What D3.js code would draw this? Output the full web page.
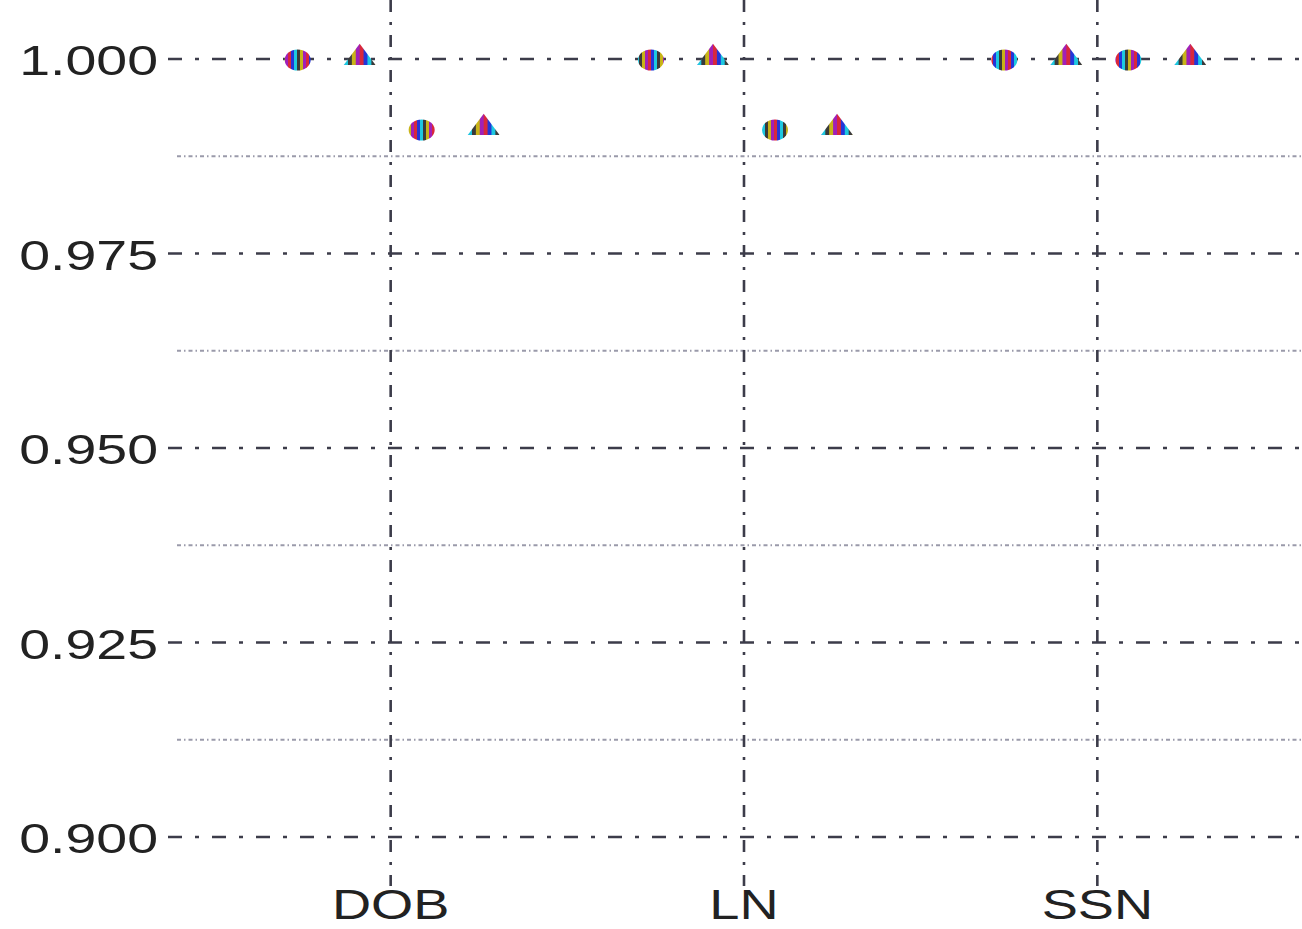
<!DOCTYPE html>
<html>
<head>
<meta charset="utf-8">
<script src="https://cdn.jsdelivr.net/npm/d3@7"></script>
<style>
  html, body { margin: 0; padding: 0; background: #fff; }
  svg { display: block; }
</style>
</head>
<body>
<svg id="chart" width="1302" height="929"></svg>
<script>
// ---- data ----
const categories = ["DOB", "LN", "SSN"];
const seriesNames = ["A_circle", "A_triangle", "B_circle", "B_triangle"];
const seriesShapes = ["circle", "triangle", "circle", "triangle"];
const valuesA_circle   = [1.000, 1.000, 1.000];
const valuesA_triangle = [1.000, 1.000, 1.000];
const valuesB_circle   = [0.991, 0.991, 1.000];
const valuesB_triangle = [0.991, 0.991, 1.000];
const seriesValues = [valuesA_circle, valuesA_triangle, valuesB_circle, valuesB_triangle];
const yTicks = [0.900, 0.925, 0.950, 0.975, 1.000];
const yMinorTicks = [0.9125, 0.9375, 0.9625, 0.9875];
const yTickLabels = ["0.900", "0.925", "0.950", "0.975", "1.000"];

// ---- layout ----
const svg = d3.select("#chart");
const W = 1302, H = 929;
const plotLeft = 168, plotTop = 0, plotBottom = 886;
const stretch = 1.29;

const x = d3.scaleBand().domain(categories).range([214, 1274]).paddingInner(0).paddingOuter(0);
const xSub = d3.scaleBand().domain(seriesNames).range([-124, 124]);
const y = d3.scaleLinear().domain([0.9, 1.0]).range([837, 59]);

// stripe pattern mimicking the colour fringes
const defs = svg.append("defs");
const stripeColors = ["#d8283c", "#2436d8", "#1ec8e0", "#3a3a3a", "#c8b418", "#a020b8"];
const pat = defs.append("pattern").attr("id", "stripes")
  .attr("patternUnits", "userSpaceOnUse").attr("width", stripeColors.length * 3).attr("height", 10);
stripeColors.forEach((c, i) => {
  pat.append("rect").attr("x", i * 3).attr("y", 0).attr("width", 3).attr("height", 10).attr("fill", c);
});

// minor horizontal grid
svg.append("g").selectAll("line").data(yMinorTicks).join("line")
  .attr("x1", 177).attr("x2", W)
  .attr("y1", d => y(d)).attr("y2", d => y(d))
  .attr("stroke", "#9a9aaa").attr("stroke-width", 2)
  .attr("stroke-dasharray", "4,3,1.5,3");

// major horizontal grid
svg.append("g").selectAll("line").data(yTicks).join("line")
  .attr("x1", plotLeft).attr("x2", W)
  .attr("y1", d => y(d)).attr("y2", d => y(d))
  .attr("stroke", "#3c3c4a").attr("stroke-width", 2.6)
  .attr("stroke-dasharray", "14,13,4,13");

// vertical grid at categories
svg.append("g").selectAll("line").data(categories).join("line")
  .attr("x1", d => x(d) + x.bandwidth() / 2).attr("x2", d => x(d) + x.bandwidth() / 2)
  .attr("y1", plotTop).attr("y2", plotBottom)
  .attr("stroke", "#3c3c4a").attr("stroke-width", 2.6)
  .attr("stroke-dasharray", "12,10,3,10");

// y tick labels
svg.append("g").selectAll("text").data(yTicks).join("text")
  .attr("transform", d => `translate(158,${y(d) + 16}) scale(${stretch},1)`)
  .attr("text-anchor", "end")
  .attr("font-family", "'Liberation Sans', Arial, sans-serif")
  .attr("font-size", 43)
  .attr("fill", "#222")
  .text((d, i) => yTickLabels[i]);

// x labels
svg.append("g").selectAll("text").data(categories).join("text")
  .attr("transform", d => `translate(${x(d) + x.bandwidth() / 2},919) scale(${stretch},1)`)
  .attr("text-anchor", "middle")
  .attr("font-family", "'Liberation Sans', Arial, sans-serif")
  .attr("font-size", 42)
  .attr("fill", "#222")
  .text(d => d);

// points
const pts = [];
seriesNames.forEach((s, si) => {
  categories.forEach((c, ci) => {
    pts.push({ s, shape: seriesShapes[si], c, v: seriesValues[si][ci] });
  });
});
const px = d => x(d.c) + x.bandwidth() / 2 + xSub(d.s) + xSub.bandwidth() / 2;
const g = svg.append("g");
g.selectAll("ellipse").data(pts.filter(d => d.shape === "circle")).join("ellipse")
  .attr("cx", px).attr("cy", d => y(d.v) + 1)
  .attr("rx", 13).attr("ry", 10.5)
  .attr("fill", "url(#stripes)");
const tri = d3.symbol().type(d3.symbolTriangle).size(260);
g.selectAll("path").data(pts.filter(d => d.shape === "triangle")).join("path")
  .attr("d", tri)
  .attr("transform", d => `translate(${px(d)},${y(d.v) - 1}) scale(1.3,1)`)
  .attr("fill", "url(#stripes)");
</script>
</body>
</html>
